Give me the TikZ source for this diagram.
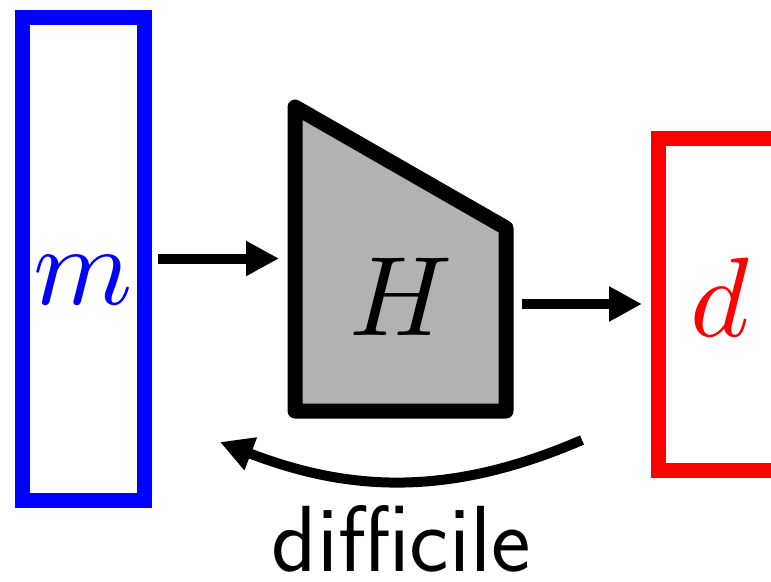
\documentclass[tikz,border=0pt]{standalone}
\usepackage{graphicx}
\usetikzlibrary{arrows.meta}
\begin{document}
\begin{tikzpicture}[x=1pt,y=-1pt,
  box/.style={draw, line width=15pt, inner sep=0pt, outer sep=0pt},
  arr/.style={line width=10pt, -{Triangle[length=33pt,width=33pt]}},
  lab/.style={inner sep=0pt}]
\useasboundingbox (0,0) rectangle (771,581);
\clip (0,0) rectangle (771,581);
% boxes
\node[box, draw=blue, minimum width=121.5pt, minimum height=483pt] (mbox) at (83.25,258.5) {};
\node[box, draw=red, minimum width=124pt, minimum height=332pt] (dbox) at (720,304) {};
% trapezoid H
\coordinate (tl) at (295,107);
\coordinate (tr) at (506,228);
\coordinate (br) at (506,411);
\coordinate (bl) at (295,411);
\draw[line width=15pt, line join=round, fill=gray!60] (tl) -- (tr) -- (br) -- (bl) -- cycle;
% labels
\node[lab, text=blue] (m) at (83,280) {\scalebox{11.3}{$m$}};
\node[lab] (H) at (401,296.5) {\scalebox{11.3}{$H$}};
\node[lab, text=red] (d) at (720,297) {\scalebox{11.3}{$d$}};
% arrows
\draw[arr, shorten <=14pt, shorten >=16pt] (mbox.east) -- (mbox.east -| tl);
\draw[arr, shorten <=16pt, shorten >=16pt] (dbox.west -| br) -- (dbox.west);
\coordinate (cs) at (582,440);
\coordinate (ce) at (220,442);
\draw[arr] (cs) .. controls (450,497) and (350,492) .. (ce);
\node[font=\sffamily\fontsize{94}{94}\selectfont, anchor=base, inner sep=0pt] (txt) at (401,571) {difficile};
\end{tikzpicture}
\end{document}
